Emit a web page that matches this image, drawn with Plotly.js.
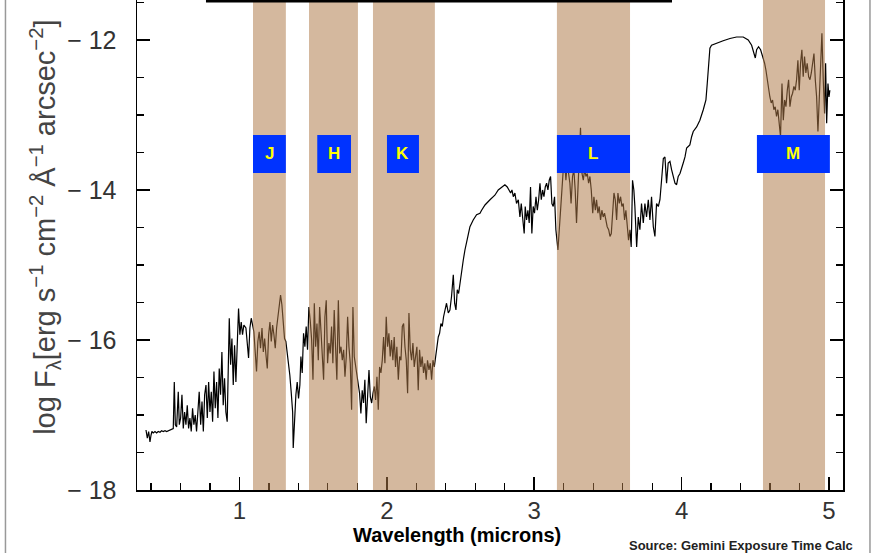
<!DOCTYPE html>
<html>
<head>
<meta charset="utf-8">
<script src="https://cdn.plot.ly/plotly-3.0.1.min.js"></script>
<style>html,body{margin:0;padding:0;background:#fff;}#chart{width:876px;height:553px;}</style>
</head>
<body>
<div id="chart"></div>
<script>
// ---- spectrum (wavelength in microns, log flux) ----
const wlA = [0.366,0.375,0.384,0.393,0.400,0.406,0.415,0.427,0.438,0.449,
0.461,0.472,0.483,0.495,0.506,0.517,0.529,0.540,0.551,0.558,
0.565,0.574,0.585,0.592,0.601,0.610,0.619,0.628,0.637,0.646,
0.655,0.664,0.673,0.682,0.691,0.700,0.709,0.718,0.727,0.737,
0.746,0.755,0.764,0.773,0.782,0.791,0.800,0.809,0.818,0.827,
0.836,0.845,0.854,0.863,0.872,0.881,0.890,0.899,0.908,0.917,
0.926,0.931,0.940,0.949,0.958,0.967,0.976,0.985,0.994,1.003,
1.012,1.021,1.030,1.044,1.053,1.062,1.071,1.080,1.089];
const fxA = [-17.20,-17.31,-17.22,-17.36,-17.27,-17.22,-17.24,-17.22,-17.24,-17.22,
-17.23,-17.21,-17.22,-17.21,-17.22,-17.21,-17.20,-17.19,-17.18,-16.56,
-17.13,-17.16,-16.69,-17.13,-17.04,-16.73,-17.18,-16.96,-17.13,-16.87,
-17.18,-17.04,-17.22,-16.91,-17.13,-17.00,-17.22,-16.96,-16.69,-17.13,
-16.82,-17.22,-16.73,-16.60,-17.04,-16.56,-16.96,-16.69,-17.09,-16.42,
-16.91,-16.56,-17.04,-16.38,-16.73,-16.16,-16.87,-16.51,-16.96,-17.09,
-16.42,-15.71,-16.33,-15.98,-16.60,-16.07,-16.56,-15.98,-15.58,-15.93,
-15.76,-15.93,-15.80,-15.84,-16.07,-16.24,-15.84,-15.71,-15.80];

const wlB = [1.098,1.107,1.116,1.125,1.134,1.143,1.153,1.162,1.171,1.180,
1.189,1.198,1.207,1.216,1.225,1.234,1.243,1.252,1.261,1.270,
1.279,1.288,1.297,1.306,1.315,1.324,1.333,1.342,1.351,1.361,
1.365,1.374,1.383,1.392,1.401,1.410];
const fxB = [-15.89,-16.16,-16.42,-16.02,-15.89,-16.11,-15.84,-16.16,-15.98,-16.20,
-16.38,-15.93,-15.76,-16.02,-15.80,-15.93,-16.11,-15.84,-15.67,-15.49,
-15.40,-15.53,-15.84,-15.98,-16.02,-16.16,-16.33,-16.47,-16.69,-16.96,
-17.44,-16.96,-16.73,-16.56,-16.78,-16.60];

const wlC = [1.417,1.426,1.435,1.444,1.453,1.462,
1.471,1.480,1.490,1.499,1.508,1.517,1.526,1.535,1.544,1.553,
1.562,1.571,1.580,1.589,1.598,1.607,1.616,1.625,1.634,1.643,
1.652,1.661,1.671,1.680,1.689,1.698,1.707,1.716,1.725,1.734,
1.743,1.752,1.761,1.770,1.779,1.788,1.797,
1.806,1.815,1.824,1.833,1.842,1.851,1.860,1.870,1.879,1.888,1.897,
1.906,1.915,1.924,1.933,1.942,1.951,1.960,1.969,1.978,1.987,
1.996,2.005,2.014,2.023,2.032,2.041,2.050,2.059,2.068,2.078,
2.087,2.096,2.105,2.114,2.123,2.132,2.141,2.150,2.159,2.168,
2.177,2.186,2.195,2.204,2.213,2.222,2.231,2.240,2.249,2.258,
2.267,2.276,2.286,2.295,2.304,2.313,2.322,
2.331,2.340,2.349,2.358,2.367,2.376,2.385];
const fxC = [-16.22,-16.44,-15.91,-16.09,-15.82,-16.13,
-15.56,-15.73,-16.00,-16.53,-15.51,-16.09,-15.78,-16.27,-15.56,-15.87,
-16.22,-16.53,-15.69,-15.47,-16.31,-16.04,-16.18,-15.82,-16.31,-15.60,
-16.09,-16.53,-15.47,-16.18,-16.09,-16.27,-16.13,-16.49,-16.22,-15.69,
-16.09,-16.31,-16.93,-15.56,-16.22,-16.36,-16.49,
-16.58,-16.71,-16.98,-16.67,-16.84,-16.53,-17.11,-16.80,-16.40,-16.76,-16.84,
-16.71,-16.62,-16.80,-16.49,-16.93,-16.36,-16.44,-16.27,-15.96,-16.31,
-15.69,-16.09,-15.91,-16.22,-16.00,-16.27,-15.96,-16.36,-16.09,-16.53,
-16.22,-16.27,-15.82,-15.78,-16.09,-16.27,-16.71,-15.64,-16.13,-16.27,
-16.04,-16.36,-16.22,-16.09,-16.67,-16.13,-16.36,-16.22,-16.44,-16.31,
-16.53,-16.27,-16.40,-16.31,-16.53,-16.27,-16.36,
-16.22,-16.04,-15.96,-15.91,-15.78,-15.82,-15.69];

const wlD = [2.405,2.417,2.428,2.439,2.451,2.460,2.469,2.478,2.487,2.496,
2.507,2.519,2.530,2.541,2.552,2.564,2.586,2.609,2.632,2.643,
2.666,2.700,2.733,2.756,2.779,2.801,2.817,2.831,2.840,2.849,
2.858,2.869,2.880,2.892,2.903,2.912,2.921,2.932,2.939,2.948,
2.957,2.966,2.975,2.984,2.993,3.002,3.012,3.021,3.030,3.039,
3.048,3.057,3.066,3.075,3.084,3.093,3.102,3.111,3.120,3.129,
3.138,3.147,
3.161,3.170,3.179,3.188,3.197,3.206,3.215,3.224,3.233,3.242,
3.250,3.260,3.269,3.278,3.287,3.296,3.305,3.314,3.324,3.333,
3.342,3.351,3.360,3.369,3.378,3.387,3.397,3.405,3.415,3.423,
3.432,3.441,3.450,3.459,3.468,3.477,3.486,3.495,3.505,3.514,
3.523,3.532,3.541,3.550,3.559,3.568,3.577,3.586,3.595,3.604,
3.613,3.622,3.631,3.640,
3.649,3.658,3.667];
const fxD = [-15.51,-15.64,-15.60,-15.42,-15.13,-15.51,-15.60,-15.33,-15.38,-15.24,
-15.11,-14.93,-14.80,-14.67,-14.60,-14.49,-14.40,-14.33,-14.31,-14.27,
-14.20,-14.13,-14.07,-14.00,-13.96,-13.93,-13.96,-14.00,-14.04,-14.00,
-14.09,-14.04,-14.18,-14.13,-14.36,-14.18,-14.36,-14.58,-14.22,-14.40,
-14.27,-14.44,-13.96,-14.58,-14.22,-14.31,-14.09,-14.27,-14.13,-13.91,
-14.13,-14.00,-14.09,-13.96,-13.91,-14.00,-13.87,-13.82,-14.18,-14.22,
-14.09,-14.53,
-14.80,-14.53,-14.22,-13.91,-13.73,-13.60,-13.87,-13.64,-13.78,-13.91,
-14.18,-13.82,-13.73,-14.00,-14.44,-14.00,-13.69,-13.17,-13.78,-13.87,
-13.73,-13.82,-13.78,-13.91,-13.82,-14.00,-14.31,-14.09,-14.27,-14.13,
-14.31,-14.22,-14.40,-14.27,-14.36,-14.31,-14.40,-14.49,-14.53,-14.62,
-14.58,-14.31,-14.04,-14.13,-14.40,-14.04,-14.18,-14.09,-14.22,-14.18,
-14.40,-14.27,-14.49,-14.67,
-14.53,-14.76,-13.87];

const wlE = [3.676,3.683,3.695,3.706,3.717,3.728,3.740,3.751,3.762,3.774,
3.785,3.796,3.808,3.819,3.830,3.842,3.853,3.864,3.876,3.887,
3.898,3.909,3.921,3.932,3.943,3.955,3.966,3.977,3.989,4.000,
4.011,4.023,4.034,4.045,4.056,4.068,4.079,4.102,4.124,4.147,
4.165,4.174,4.183,4.192,4.203,4.237,4.282,4.328,4.373,4.418,
4.452,4.475,4.491,4.500,4.509,4.522,4.536,4.550,
4.563,4.572,4.581,4.590,4.599,4.608,4.617,4.626,4.635,4.644,
4.653,4.662,4.671,4.681,4.690,4.699,4.708,4.717,4.726,4.735,
4.744,4.753,4.762,4.771,4.780,4.789,4.798,4.807,4.816,4.825,
4.834,4.843,4.852,4.862,4.871,4.880,4.889,4.898,4.907,4.916,
4.925,4.934,4.943,4.952,4.961,4.970,
4.977,4.984,4.993,5.000,5.006];
const fxE = [-14.00,-14.22,-14.76,-14.36,-14.53,-14.18,-14.44,-14.18,-14.36,-14.13,
-14.40,-14.09,-14.49,-14.62,-14.18,-14.22,-14.13,-13.87,-13.58,-13.56,
-13.91,-13.64,-13.62,-13.73,-13.82,-13.91,-13.93,-13.82,-13.78,-13.69,
-13.64,-13.56,-13.44,-13.42,-13.40,-13.29,-13.22,-13.16,-13.07,-12.93,
-12.80,-12.58,-12.27,-12.11,-12.07,-12.04,-12.01,-11.98,-11.96,-11.96,
-12.00,-12.07,-12.18,-12.24,-12.13,-12.09,-12.13,-12.22,
-12.31,-12.40,-12.53,-12.62,-12.76,-12.84,-12.80,-12.93,-12.89,-13.02,
-12.93,-13.11,-13.29,-12.58,-13.07,-12.80,-12.89,-12.67,-12.53,-12.89,
-12.76,-12.71,-12.62,-12.67,-12.53,-12.27,-12.67,-12.31,-12.13,-12.49,
-12.22,-12.44,-12.31,-12.49,-12.53,-12.44,-12.31,-12.18,-12.53,-12.76,
-13.22,-12.76,-12.53,-11.91,-12.53,-12.98,
-12.31,-13.11,-12.58,-12.76,-12.67];

// ---- photometric bands ----
const bandNames = ['J','H','K','L','M'];
const bandLo = [1.092, 1.472, 1.906, 3.154, 4.552];
const bandHi = [1.315, 1.804, 2.326, 3.650, 4.973];
const labelLo = [1.092, 1.528, 2.001, 3.154, 4.511];
const labelHi = [1.315, 1.757, 2.218, 3.650, 5.006];

const xTickVals = [1, 2, 3, 4, 5];
const xTickText = ['1', '2', '3', '4', '5'];
const yTickVals = [-18, -16, -14, -12];
const yTickText = ['\u2212 18', '\u2212 16', '\u2212 14', '\u2212 12'];

const wavelength = [].concat(wlA, wlB, wlC, wlD, wlE);
const flux = [].concat(fxA, fxB, fxC, fxD, fxE);

const FONT = 'Liberation Sans, Arial, Helvetica, sans-serif';
const LBL_Y0 = -13.773, LBL_Y1 = -13.267;

const shapes = [];
bandNames.forEach((n, i) => {
  shapes.push({type:'rect', xref:'x', yref:'paper', x0:bandLo[i], x1:bandHi[i], y0:0, y1:1,
    fillcolor:'rgba(174,121,72,0.53)', line:{width:0}, layer:'above'});
});
bandNames.forEach((n, i) => {
  shapes.push({type:'rect', xref:'x', yref:'y', x0:labelLo[i], x1:labelHi[i], y0:LBL_Y0, y1:LBL_Y1,
    fillcolor:'#0033ff', line:{width:0}, layer:'above'});
});
// top title-frame edge
shapes.push({type:'rect', xref:'paper', yref:'paper', x0:0.0977, x1:0.7578, y0:0.995, y1:1.002,
  fillcolor:'#000', line:{width:0}, layer:'above'});
// outer frame lines
shapes.push({type:'line', xref:'paper', yref:'paper', x0:-0.1863, x1:-0.1863, y0:-0.13, y1:1.01,
  line:{color:'#999', width:1.5}});
shapes.push({type:'line', xref:'paper', yref:'paper', x0:1.0382, x1:1.0382, y0:-0.13, y1:1.01,
  line:{color:'#999', width:1.5}});

const annotations = bandNames.map((n, i) => ({
  xref:'x', yref:'y', x:(labelLo[i] + labelHi[i]) / 2, y:(LBL_Y0 + LBL_Y1) / 2,
  text:'<b>' + n + '</b>', showarrow:false,
  font:{family:FONT, size:17, color:'#ffff00'}, xanchor:'center', yanchor:'middle'
}));
// x-axis title (offset left of centre as in the original)
annotations.push({xref:'paper', yref:'paper', x:0.453, y:-0.0925, xanchor:'center', yanchor:'middle',
  text:'<b>Wavelength (microns)</b>', showarrow:false,
  font:{family:FONT, size:20, color:'#000'}});
// y-axis title
annotations.push({xref:'paper', yref:'paper', x:-0.1303, y:0.535, xanchor:'center', yanchor:'middle',
  textangle:-90, showarrow:false,
  text:'log F<sub>λ</sub>[erg s<sup>−1</sup> cm<sup>−2</sup> Å<sup>−1</sup> arcsec<sup>−2</sup>]',
  font:{family:FONT, size:29, color:'#444'}});
annotations.push({xref:'paper', yref:'paper', x:1.017, y:-0.114, xanchor:'right', yanchor:'middle',
  text:'<b>Source: Gemini Exposure Time Calc</b>', showarrow:false,
  font:{family:FONT, size:13, color:'#222'}});

const trace = {x: wavelength, y: flux, type:'scatter', mode:'lines',
  line:{color:'#000', width:1.2}, hoverinfo:'skip', showlegend:false};

const layout = {
  width:876, height:553,
  margin:{l:137, r:33, t:0, b:63, pad:0},
  paper_bgcolor:'#fff', plot_bgcolor:'#fff',
  showlegend:false,
  xaxis:{
    range:[0.305, 5.095], tickvals:xTickVals, ticktext:xTickText,
    ticks:'inside', ticklen:13, tickwidth:1.5, tickcolor:'#000',
    minor:{dtick:0.2, tick0:0, ticks:'inside', ticklen:7, tickwidth:1.2, tickcolor:'#000', showgrid:false},
    showline:true, linecolor:'#000', linewidth:1.5, mirror:false,
    showgrid:false, zeroline:false, automargin:false,
    tickfont:{family:FONT, size:24, color:'#333'}, ticklabelstandoff:-1
  },
  yaxis:{
    range:[-18, -11.467], tickvals:yTickVals, ticktext:yTickText,
    ticks:'inside', ticklen:13, tickwidth:1.5, tickcolor:'#000',
    minor:{dtick:0.5, tick0:0, ticks:'inside', ticklen:7, tickwidth:1.2, tickcolor:'#000', showgrid:false},
    showline:true, linecolor:'#000', linewidth:1.5, mirror:'ticks',
    showgrid:false, zeroline:false, automargin:false,
    tickfont:{family:FONT, size:25, color:'#333'}, ticklabelstandoff:14
  },
  shapes: shapes,
  annotations: annotations
};

Plotly.newPlot('chart', [trace], layout, {displayModeBar:false, staticPlot:true});
</script>
</body>
</html>
